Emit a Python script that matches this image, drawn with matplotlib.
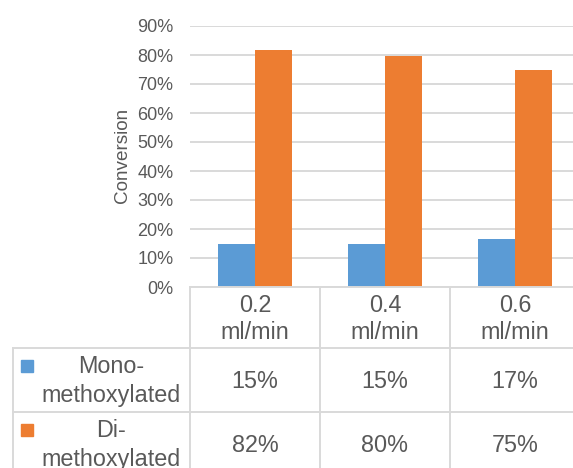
import matplotlib
matplotlib.use("Agg")
import matplotlib.pyplot as plt
import numpy as np

plt.rcParams["font.family"] = ["Liberation Sans", "DejaVu Sans"]

categories = ["0.2\nml/min", "0.4\nml/min", "0.6\nml/min"]
series_names = ["Mono-\nmethoxylated", "Di-\nmethoxylated"]
mono = [0.147, 0.147, 0.167]
di = [0.816, 0.797, 0.749]
colors = ["#5B9BD5", "#ED7D31"]

W, H = 573, 468
text_col = "#595959"
grid_col = "#D9D9D9"

fig = plt.figure(figsize=(W / 100, H / 100), dpi=100)

# plot area in pixel terms
left, right, top, bottom = 190, 580, 26, 287
ax = fig.add_axes([left / W, 1 - bottom / H, (right - left) / W, (bottom - top) / H])

x = np.arange(len(categories))
bw = 0.285
ax.bar(x - bw / 2, mono, bw, color=colors[0], zorder=3)
ax.bar(x + bw / 2, di, bw, color=colors[1], zorder=3)

ax.set_xlim(-0.5, len(categories) - 0.5)
ax.set_ylim(0, 0.9)
ax.set_yticks(np.arange(0, 0.91, 0.1))
ax.set_yticklabels([f"{int(round(t * 100))}%" for t in np.arange(0, 0.91, 0.1)])
ax.set_xticks([])
ax.tick_params(axis="y", length=0, pad=12, labelsize=13, labelcolor=text_col)
ax.grid(axis="y", color=grid_col, lw=1.4, zorder=0)
for s in ax.spines.values():
    s.set_visible(False)
ax.patch.set_alpha(0)

# overlay for the data table, drawn in pixel coordinates
ov = fig.add_axes([0, 0, 1, 1], zorder=5)
ov.set_xlim(0, W)
ov.set_ylim(H, 0)
ov.axis("off")
ov.patch.set_alpha(0)

ov.text(123, 155, "Conversion", rotation=90, ha="center", va="center",
        fontsize=13.6, color=text_col)

lw = 1.4
row_y = [287, 348, 412, 476]
col_x = [13, 190, 320, 450, 580]
ov.plot([190, W], [287, 287], color=grid_col, lw=lw)
for yy in row_y[1:3]:
    ov.plot([13, W], [yy, yy], color=grid_col, lw=lw)
ov.plot([13, 13], [348, H], color=grid_col, lw=lw)
for xx in col_x[1:4]:
    ov.plot([xx, xx], [287, H], color=grid_col, lw=lw)

fs = 16.8
# column headers
for i, cat in enumerate(categories):
    cx = (col_x[i + 1] + col_x[i + 2]) / 2
    l1, l2 = cat.split("\n")
    ov.text(cx, 312, l1, ha="center", va="baseline", fontsize=fs, color=text_col)
    ov.text(cx, 339, l2, ha="center", va="baseline", fontsize=fs, color=text_col)

# series rows with legend keys and values
for r, (name, vals) in enumerate(zip(series_names, [mono, di])):
    y0 = row_y[r + 1]
    ov.add_patch(plt.Rectangle((21, y0 + 12), 12, 12, color=colors[r]))
    l1, l2 = name.split("\n")
    ov.text(111, y0 + 25, l1, ha="center", va="baseline", fontsize=fs, color=text_col)
    ov.text(111, y0 + 54, l2, ha="center", va="baseline", fontsize=fs, color=text_col)
    for i, v in enumerate(vals):
        cx = (col_x[i + 1] + col_x[i + 2]) / 2
        ov.text(cx, y0 + 40, f"{v:.0%}", ha="center", va="baseline",
                fontsize=fs, color=text_col)

fig.savefig("out.png", dpi=100)
